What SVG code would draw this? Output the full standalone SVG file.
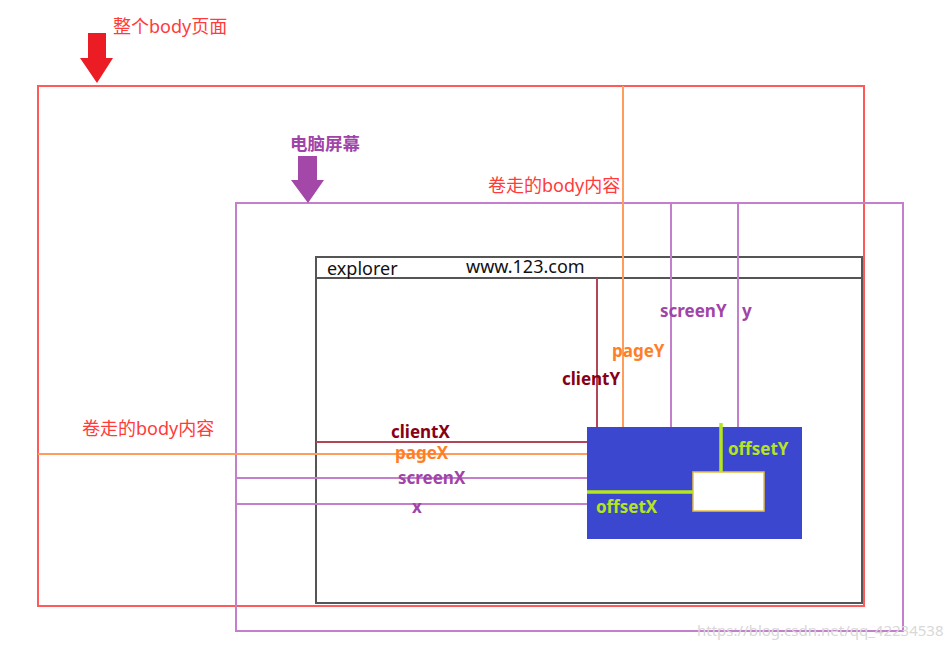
<svg xmlns="http://www.w3.org/2000/svg" width="950" height="649" viewBox="0 0 950 649">
<style>
text{font-family:"Noto Sans","Noto Sans CJK SC",sans-serif;font-size:18px}
.b{font-weight:bold;font-size:17px}
.red{fill:#ff3b3b}
.pur{fill:#a044a8}
.org{fill:#ff7f27}
.drd{fill:#880015}
.grn{fill:#b5e61d}
.lr{stroke:#b04658;stroke-width:2;fill:none}
.lo{stroke:#ff9d5c;stroke-width:2;fill:none}
.lp{stroke:#c47fcc;stroke-width:2;fill:none}
.lg{stroke:#b5e61d;stroke-width:3.5;fill:none}
</style>
<rect width="950" height="649" fill="#fff"/>
<g id="body-page">
<rect x="38" y="86" width="826" height="520" fill="none" stroke="#ff5a5a" stroke-width="2"/>
<polygon points="88,33 106,33 106,58 113,58 97,83 80,58 88,58" fill="#ec1c24"/>
<text x="113" y="33" class="red">整个body页面</text>
</g>
<g id="screen">
<rect x="236" y="203" width="667" height="428" fill="none" stroke="#c47fcc" stroke-width="2"/>
<polygon points="298,156 317,156 317,180 324,180 308,203 291,180 298,180" fill="#a347a8"/>
<text x="290" y="150" class="pur b" style="font-size:17.5px">电脑屏幕</text>
</g>
<g id="explorer">
<rect x="316" y="257" width="546" height="346" fill="none" stroke="#555" stroke-width="2"/>
<line x1="316" y1="278" x2="862" y2="278" stroke="#555" stroke-width="2"/>
<text x="327" y="275" fill="#111">explorer</text>
<text x="466" y="273" fill="#111">www.123.com</text>
</g>
<g id="connectors">
<line x1="623" y1="86" x2="623" y2="427" class="lo"/>
<line x1="597" y1="278" x2="597" y2="427" class="lr"/>
<line x1="671" y1="203" x2="671" y2="427" class="lp"/>
<line x1="738" y1="203" x2="738" y2="427" class="lp"/>
<line x1="316" y1="442" x2="587" y2="442" class="lr"/>
<line x1="38" y1="454" x2="587" y2="454" class="lo"/>
<line x1="236" y1="478" x2="587" y2="478" class="lp"/>
<line x1="236" y1="504" x2="587" y2="504" class="lp"/>
</g>
<g id="element">
<rect x="587" y="427" width="215" height="112" fill="#3c47cf"/>
<rect x="693" y="472" width="71" height="39" fill="#fff" stroke="#e8c040" stroke-width="1.5"/>
<line x1="721" y1="423" x2="721" y2="472" class="lg"/>
<line x1="587" y1="492" x2="693" y2="492" class="lg"/>
<text x="728" y="455" class="grn b">offsetY</text>
<text x="596" y="513" class="grn b">offsetX</text>
</g>
<g id="labels">
<text x="488" y="192" class="red">卷走的body内容</text>
<text x="82" y="435" class="red">卷走的body内容</text>
<text x="660" y="317" class="pur b">screenY</text>
<text x="742" y="317" class="pur b">y</text>
<text x="612" y="357" class="org b">pageY</text>
<text x="562" y="385" class="drd b">clientY</text>
<text x="391" y="438" class="drd b">clientX</text>
<text x="395" y="459" class="org b">pageX</text>
<text x="398" y="484" class="pur b">screenX</text>
<text x="412" y="513" class="pur b">x</text>
<text x="697" y="636" fill="#d8d8d8" style="font-size:15px">https://blog.csdn.net/qq_42234538</text>
</g>
</svg>
